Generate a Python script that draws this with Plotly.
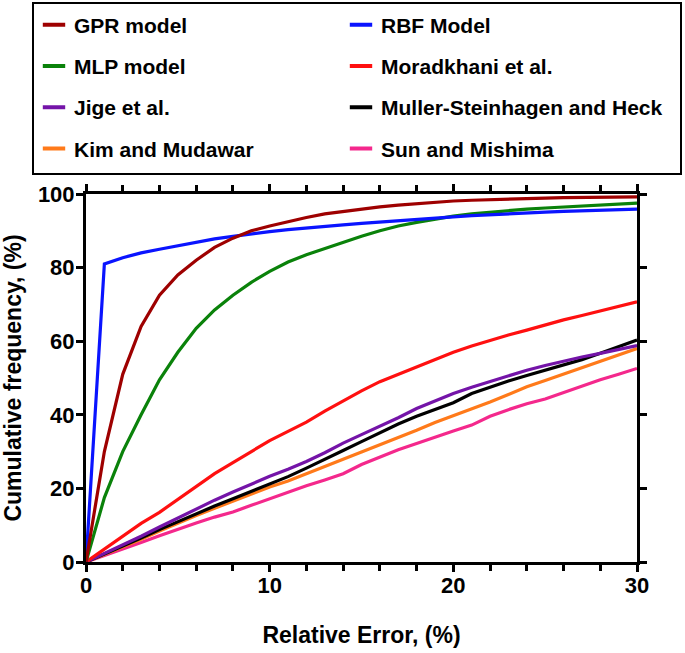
import plotly.graph_objects as go

rel_error = list(range(0, 31))

gpr = [0, 30, 51, 64, 72.5, 78, 82, 85.5, 88, 90, 91.3, 92.5, 93.6, 94.6, 95.3, 96, 96.5, 97, 97.4, 97.8,
       98.1, 98.3, 98.5, 98.7, 98.8, 98.9, 99.0, 99.1, 99.1, 99.2, 99.2]
rbf = [0, 81, 82.7, 84, 85, 86, 87, 87.8, 88.5, 89.2, 89.8, 90.3, 90.8, 91.2, 91.6, 92, 92.4, 92.7, 93.1, 93.5,
       93.8, 94.1, 94.4, 94.6, 94.9, 95.1, 95.3, 95.5, 95.6, 95.8, 95.9]
mlp = [0, 17.5, 30, 40, 49.5, 57, 63.5, 68.5, 72.5, 76, 79, 81.5, 83.5, 85.2, 86.9, 88.5, 90, 91.3, 92.3, 93.2,
       94, 94.6, 95.1, 95.5, 95.9, 96.2, 96.5, 96.8, 97, 97.3, 97.5]
moradkhani = [0, 3.5, 7, 10.5, 13.5, 17, 20.5, 24, 27, 30, 33, 35.5, 38, 41, 43.8, 46.5, 49, 51, 53, 55,
              57, 58.7, 60.3, 61.7, 63, 64.5, 65.8, 67, 68.3, 69.5, 70.7]
jige = [0, 2.3, 4.6, 7, 9.5, 12, 14.5, 16.8, 19, 21.2, 23.3, 25.2, 27.3, 29.7, 32.3, 34.6, 36.8, 39.2, 41.7, 43.8,
        45.8, 47.5, 49, 50.7, 52.1, 53.4, 54.6, 55.7, 56.7, 57.7, 58.8]
muller = [0, 2.1, 4.3, 6.5, 8.8, 11, 13.2, 15.2, 17.2, 19.2, 21.3, 23.2, 25.5, 27.8, 30.3, 32.7, 35.2, 37.5, 39.6, 41.4,
          43.3, 45.8, 47.6, 49.2, 50.7, 52.1, 53.5, 55, 56.7, 58.5, 60.3]
kim = [0, 2, 4.1, 6.2, 8.4, 10.6, 12.6, 14.6, 16.5, 18.5, 20.4, 22, 23.9, 25.9, 27.9, 29.9, 31.8, 33.8, 35.8, 37.9,
       39.7, 41.5, 43.5, 45.5, 47.6, 49.3, 51, 52.8, 54.6, 56.3, 58]
sun = [0, 1.7, 3.5, 5.3, 7.1, 8.9, 10.6, 12.2, 13.6, 15.4, 17.2, 18.8, 20.7, 22.3, 24, 26.5, 28.6, 30.5, 32.2, 34,
       35.6, 37.2, 39.6, 41.4, 43, 44.3, 46, 47.9, 49.5, 51, 52.6]

names = ["GPR model", "RBF Model", "MLP model", "Moradkhani et al.",
         "Jige et al.", "Muller-Steinhagen and Heck", "Kim and Mudawar", "Sun and Mishima"]
series = [gpr, rbf, mlp, moradkhani, jige, muller, kim, sun]
colors = ["#9E0000", "#0A14FF", "#0A820A", "#FF1010", "#7414A8", "#000000", "#FF7A1A", "#F4288C"]
legend_cols = ["legend", "legend2", "legend", "legend2", "legend", "legend2", "legend", "legend2"]

FONT = "Liberation Sans, Arial, sans-serif"

fig = go.Figure()
draw_order = [7, 6, 5, 4, 3, 2, 1, 0]
for i in draw_order:
    fig.add_trace(go.Scatter(
        x=rel_error, y=series[i], mode="lines", name=names[i],
        line=dict(color=colors[i], width=3.2), legendgroup=names[i], showlegend=False))

# legend entries (short thick swatches)
for i in range(8):
    fig.add_trace(go.Scatter(
        x=[None], y=[None], mode="markers", name=names[i], legendgroup=names[i],
        legend=legend_cols[i],
        marker=dict(symbol="line-ew", size=16, color=colors[i], line=dict(width=4, color=colors[i]))))

axis_common = dict(
    showline=True, linecolor="black", linewidth=3, mirror="ticks",
    ticks="outside", tickcolor="black", tickwidth=3, ticklen=7,
    showgrid=False, zeroline=False, automargin=False,
    tickfont=dict(family=FONT, size=22, color="black", weight="bold"),
)

fig.update_xaxes(
    range=[0, 30], tickvals=[0, 10, 20, 30], ticklabelstandoff=-5,
    minor=dict(dtick=2, ticks="outside", ticklen=6, tickwidth=2.5, tickcolor="black", showgrid=False),
    title=dict(text="Relative Error, (%)", font=dict(family=FONT, size=23, color="black", weight="bold"),
               standoff=30),
    **axis_common)
fig.update_yaxes(
    range=[0, 100], tickvals=[0, 20, 40, 60, 80, 100], ticklabelstandoff=-3,
    title=dict(text="Cumulative frequency, (%)", font=dict(family=FONT, size=23, color="black", weight="bold"),
               standoff=18),
    **axis_common)

leg_common = dict(
    orientation="v", yanchor="top", xanchor="left", bgcolor="rgba(0,0,0,0)",
    borderwidth=0, tracegroupgap=11, traceorder="grouped",
    font=dict(family=FONT, size=21, color="black", weight="bold"),
)

fig.update_layout(
    width=685, height=653,
    margin=dict(l=86, r=48, t=194, b=91, autoexpand=False),
    paper_bgcolor="white", plot_bgcolor="white",
    font=dict(family=FONT, color="black", weight="bold"),
    legend=dict(x=(34 - 86) / 551, y=(562 - 4.5) / 368, **leg_common),
    legend2=dict(x=(341 - 86) / 551, y=(562 - 4.5) / 368, **leg_common),
    shapes=[dict(type="rect", xref="paper", yref="paper",
                 x0=(33 - 86) / 551, x1=(681 - 86) / 551,
                 y0=(562 - 174) / 368, y1=(562 - 3) / 368,
                 line=dict(color="black", width=2), fillcolor="rgba(0,0,0,0)")],
)

fig.write_html("out.html", config={"displayModeBar": False},
               post_script="document.body.style.margin='0px';")
